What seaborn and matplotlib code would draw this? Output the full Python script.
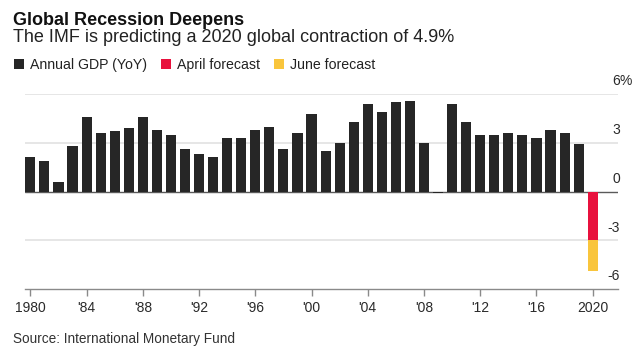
import matplotlib
matplotlib.use("Agg")
import matplotlib.pyplot as plt
import matplotlib.transforms as mtransforms
from matplotlib.patches import Patch
import seaborn as sns
import pandas as pd

# data (world GDP growth, % YoY)
years = list(range(1980, 2020))
gdp = [2.1, 1.9, 0.6, 2.8, 4.6, 3.6, 3.7, 3.9, 4.6, 3.8,
       3.5, 2.6, 2.3, 2.1, 3.3, 3.3, 3.8, 4.0, 2.6, 3.6,
       4.8, 2.5, 3.0, 4.3, 5.4, 4.9, 5.5, 5.6, 3.0, -0.1,
       5.4, 4.3, 3.5, 3.5, 3.6, 3.5, 3.3, 3.8, 3.6, 2.9]
april_2020 = -3.0
june_2020 = -4.9

series_names = ["Annual GDP (YoY)", "April forecast", "June forecast"]
colors = {"Annual GDP (YoY)": "#262626", "April forecast": "#e8113d", "June forecast": "#f9c53c"}
tick_years = list(range(1980, 2021, 4))
tick_labels = ["1980", "'84", "'88", "'92", "'96", "'00", "'04", "'08", "'12", "'16", "2020"]
y_ticks = [6, 3, 0, -3, -6]

df = pd.DataFrame({
    "year": years + [2020, 2020],
    "value": gdp + [june_2020, april_2020],
    "series": ["Annual GDP (YoY)"] * len(years) + ["June forecast", "April forecast"],
})

sns.set_theme(style="white")
plt.rcParams["font.family"] = ["Liberation Sans", "DejaVu Sans"]

W, H = 636, 353
fig = plt.figure(figsize=(W / 100, H / 100), dpi=100)
ax = fig.add_axes([25 / W, 1 - 289 / H, (618 - 25) / W, (289 - 94) / H])

# yellow (June) drawn before red (April) so red sits on top
sns.barplot(data=df, x="year", y="value", hue="series",
            hue_order=["Annual GDP (YoY)", "June forecast", "April forecast"],
            palette=colors, saturation=1, native_scale=True, dodge=False, width=0.72,
            errorbar=None, linewidth=0, legend=False, ax=ax, zorder=3)

ax.set_xlim(1979.62, 2021.8)
ax.set_ylim(-6, 6)
for y in [6, 3, -3]:
    ax.axhline(y, color="#e6e6e6", lw=1.4, zorder=1)
ax.axhline(0, color="#5a5a5a", lw=1.0, zorder=2)

for s in ["top", "right", "left"]:
    ax.spines[s].set_visible(False)
ax.spines["bottom"].set_color("#8a8a8a")
ax.spines["bottom"].set_linewidth(1.0)

ax.set_xticks(tick_years)
ax.set_xticklabels(tick_labels)
ax.tick_params(axis="x", direction="out", length=5, width=1, color="#8a8a8a",
               labelsize=10, labelcolor="#2a2a2a", pad=4, bottom=True)
ax.set_yticks([])
ax.set_xlabel("")
ax.set_ylabel("")

# right-side value labels sitting above their gridlines
trans = mtransforms.blended_transform_factory(fig.transFigure, ax.transData)
for y in y_ticks:
    ax.text(620 / W, y + 0.35, str(y), transform=trans, ha="right", va="bottom",
            fontsize=10, color="#2a2a2a")
ax.text(620 / W, 6 + 0.35, "%", transform=trans, ha="left", va="bottom",
        fontsize=10, color="#2a2a2a")

fig.text(13 / W, 1 - 25 / H, "Global Recession Deepens", fontsize=13,
         fontweight="bold", color="#111111", va="baseline")
fig.text(13 / W, 1 - 42 / H, "The IMF is predicting a 2020 global contraction of 4.9%",
         fontsize=13, color="#222222", va="baseline")

handles = [Patch(facecolor=colors[n], edgecolor="none") for n in series_names]
fig.legend(handles, series_names, loc="lower left", bbox_to_anchor=(14 / W, 1 - 72 / H),
           ncol=3, frameon=False, fontsize=10.2, borderpad=0, borderaxespad=0,
           handlelength=0.72, handleheight=0.72, handletextpad=0.4, columnspacing=1.0,
           labelcolor="#222222")

fig.text(13 / W, 1 - 343.3 / H, "Source: International Monetary Fund", fontsize=9.8,
         color="#333333", va="baseline")

fig.savefig("out.png", dpi=100)
